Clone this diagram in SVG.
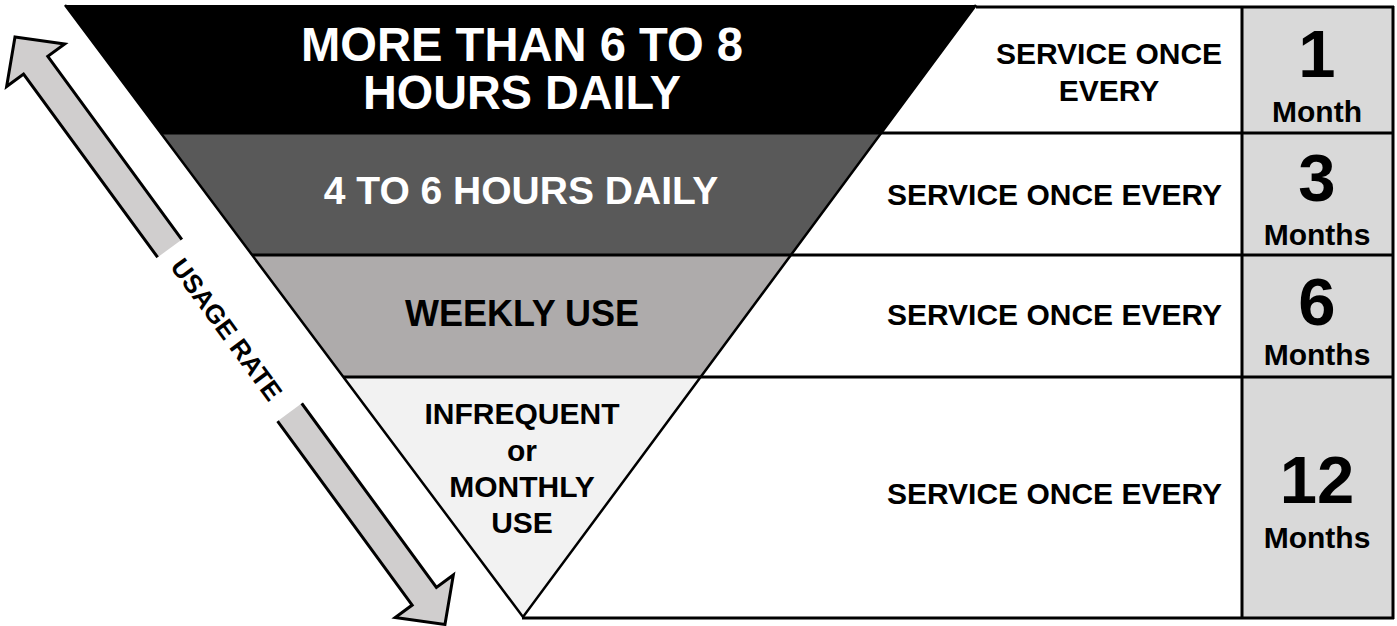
<svg xmlns="http://www.w3.org/2000/svg" width="1397" height="626" viewBox="0 0 1397 626">
<style>
text{font-family:"Liberation Sans",Arial,sans-serif;font-weight:bold;text-anchor:middle}
.w{fill:#fff}
.k{fill:#000}
.r{text-anchor:end}
.ln{stroke:#000;stroke-width:3;fill:none}
.edge{stroke:#000;stroke-width:2.5;fill:none}
</style>
<rect width="1397" height="626" fill="#fff"/>
<g id="table">
<rect x="1242" y="7" width="151" height="611" fill="#d9d9d9"/>
</g>
<g id="band1">
<polygon points="65,5 976,5 881.3,133 160.8,133" fill="#000"/>
<text class="w" x="522" y="61" font-size="48" textLength="442" lengthAdjust="spacingAndGlyphs">MORE THAN 6 TO 8</text>
<text class="w" x="522" y="109" font-size="48" textLength="318" lengthAdjust="spacingAndGlyphs">HOURS DAILY</text>
</g>
<g id="band2">
<polygon points="160.8,133 881.3,133 790.9,255 252.1,255" fill="#595959"/>
<text class="w" x="521" y="204" font-size="39">4 TO 6 HOURS DAILY</text>
</g>
<g id="band3">
<polygon points="252.1,255 790.9,255 700.6,377 343.4,377" fill="#aeabab"/>
<text class="k" x="522" y="326" font-size="36">WEEKLY USE</text>
</g>
<g id="band4">
<polygon points="343.4,377 700.6,377 523,617" fill="#f2f2f2"/>
<text class="k" x="522" y="424" font-size="30">INFREQUENT</text>
<text class="k" x="522" y="461" font-size="30">or</text>
<text class="k" x="522" y="497" font-size="30">MONTHLY</text>
<text class="k" x="522" y="533" font-size="30">USE</text>
</g>
<g id="lines">
<polyline class="edge" points="65,5 523,617 976,5"/>
<line class="ln" x1="976" y1="7" x2="1394" y2="7"/>
<line class="ln" x1="1393" y1="6" x2="1393" y2="619"/>
<line class="ln" x1="522" y1="618" x2="1394" y2="618"/>
<line class="ln" x1="1242" y1="6" x2="1242" y2="619"/>
<line class="ln" x1="160.8" y1="133" x2="1394" y2="133"/>
<line class="ln" x1="252.1" y1="255" x2="1394" y2="255"/>
<line class="ln" x1="343.4" y1="377" x2="1394" y2="377"/>
</g>
<g id="row1">
<text class="k" x="1109" y="64" font-size="30">SERVICE ONCE</text>
<text class="k" x="1109" y="101" font-size="30">EVERY</text>
<text class="k" x="1317" y="77" font-size="67">1</text>
<text class="k" x="1317" y="122" font-size="30">Month</text>
</g>
<g id="row2">
<text class="k r" x="1222" y="205" font-size="30">SERVICE ONCE EVERY</text>
<text class="k" x="1317" y="201" font-size="67">3</text>
<text class="k" x="1317" y="245" font-size="30">Months</text>
</g>
<g id="row3">
<text class="k r" x="1222" y="325" font-size="30">SERVICE ONCE EVERY</text>
<text class="k" x="1317" y="325" font-size="67">6</text>
<text class="k" x="1317" y="365" font-size="30">Months</text>
</g>
<g id="row4">
<text class="k r" x="1222" y="504" font-size="30">SERVICE ONCE EVERY</text>
<text class="k" x="1317" y="503" font-size="67">12</text>
<text class="k" x="1317" y="548" font-size="30">Months</text>
</g>
<g id="usage-arrow" transform="translate(15,37) rotate(53.8)">
<polygon points="0,0 35,-36 35,-15 693,-15 693,-36 728,0 693,36 693,15 35,15 35,36" fill="#d0cece" stroke="#000" stroke-width="3"/>
<rect x="262" y="-21" width="203" height="42" fill="#fff"/>
<text class="k" x="361" y="11" font-size="26">USAGE RATE</text>
</g>
</svg>
